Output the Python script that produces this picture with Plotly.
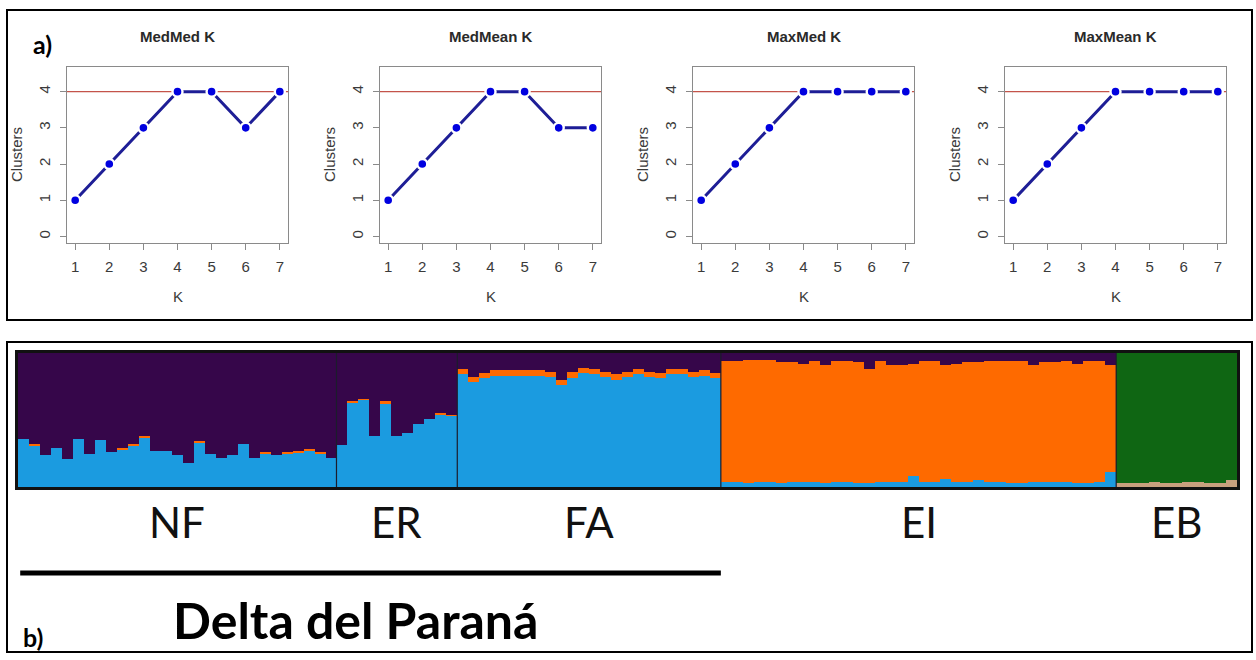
import plotly.graph_objects as go

# ---------------- data: panel a ----------------
K = [1, 2, 3, 4, 5, 6, 7]
medmed = [1, 2, 3, 4, 4, 3, 4]
medmean = [1, 2, 3, 4, 4, 3, 3]
maxmed = [1, 2, 3, 4, 4, 4, 4]
maxmean = [1, 2, 3, 4, 4, 4, 4]
panel_titles = ["MedMed K", "MedMean K", "MaxMed K", "MaxMean K"]
ref_clusters = 4
y_ticks = [0, 1, 2, 3, 4]

# ---------------- data: panel b (ancestry proportions per individual) ----------------
pops = ["NF", "ER", "FA", "EI", "EB"]

nf_blue = [0.36, 0.31, 0.24, 0.29, 0.21, 0.36, 0.25, 0.35, 0.26, 0.28, 0.31, 0.37, 0.27, 0.27, 0.24,
           0.18, 0.33, 0.25, 0.22, 0.24, 0.32, 0.22, 0.25, 0.24, 0.25, 0.26, 0.27, 0.25, 0.22]
nf_orange = [0.00, 0.01, 0.00, 0.00, 0.00, 0.00, 0.00, 0.00, 0.00, 0.01, 0.01, 0.01, 0.00, 0.00, 0.00,
             0.00, 0.01, 0.00, 0.00, 0.00, 0.00, 0.00, 0.01, 0.00, 0.01, 0.01, 0.01, 0.01, 0.00]
nf_green = [0.0] * 29
nf_purple = [0.64, 0.68, 0.76, 0.71, 0.79, 0.64, 0.75, 0.65, 0.74, 0.71, 0.68, 0.62, 0.73, 0.73, 0.76,
             0.82, 0.66, 0.75, 0.78, 0.76, 0.68, 0.78, 0.74, 0.76, 0.74, 0.73, 0.72, 0.74, 0.78]

er_blue = [0.31, 0.63, 0.65, 0.38, 0.62, 0.38, 0.40, 0.47, 0.51, 0.54, 0.53]
er_orange = [0.00, 0.01, 0.01, 0.00, 0.02, 0.00, 0.00, 0.00, 0.00, 0.01, 0.01]
er_green = [0.0] * 11
er_purple = [0.69, 0.36, 0.34, 0.62, 0.36, 0.62, 0.60, 0.53, 0.49, 0.45, 0.46]

fa_blue = [0.84, 0.78, 0.81, 0.83, 0.83, 0.83, 0.83, 0.83, 0.82, 0.76, 0.81, 0.85,
           0.84, 0.82, 0.80, 0.82, 0.84, 0.82, 0.81, 0.84, 0.84, 0.82, 0.83, 0.81]
fa_orange = [0.04, 0.04, 0.04, 0.04, 0.04, 0.04, 0.04, 0.04, 0.04, 0.04, 0.05, 0.04,
             0.04, 0.04, 0.04, 0.04, 0.04, 0.04, 0.04, 0.04, 0.04, 0.04, 0.04, 0.04]
fa_green = [0.0] * 24
fa_purple = [0.12, 0.18, 0.15, 0.13, 0.13, 0.13, 0.13, 0.13, 0.14, 0.20, 0.14, 0.11,
             0.12, 0.14, 0.16, 0.14, 0.12, 0.14, 0.15, 0.12, 0.12, 0.14, 0.13, 0.15]

ei_blue = [0.04, 0.04, 0.03, 0.04, 0.04, 0.03, 0.04, 0.04, 0.04, 0.03, 0.04, 0.04,
           0.03, 0.03, 0.04, 0.04, 0.04, 0.08, 0.04, 0.04, 0.06, 0.04, 0.04, 0.05,
           0.04, 0.04, 0.03, 0.03, 0.04, 0.04, 0.04, 0.04, 0.03, 0.03, 0.04, 0.11]
ei_orange = [0.90, 0.90, 0.92, 0.91, 0.91, 0.90, 0.89, 0.88, 0.90, 0.88, 0.90, 0.90,
             0.90, 0.85, 0.90, 0.87, 0.87, 0.84, 0.90, 0.90, 0.85, 0.88, 0.89, 0.88,
             0.90, 0.90, 0.91, 0.91, 0.87, 0.89, 0.89, 0.90, 0.89, 0.91, 0.90, 0.80]
ei_green = [0.0] * 36
ei_purple = [0.06, 0.06, 0.05, 0.05, 0.05, 0.07, 0.07, 0.08, 0.06, 0.09, 0.06, 0.06,
             0.07, 0.12, 0.06, 0.09, 0.09, 0.08, 0.06, 0.06, 0.09, 0.08, 0.07, 0.07,
             0.06, 0.06, 0.06, 0.06, 0.09, 0.07, 0.07, 0.06, 0.08, 0.06, 0.06, 0.09]

eb_blue = [0.01, 0.01, 0.01, 0.01, 0.01, 0.01, 0.01, 0.01, 0.01, 0.01, 0.01]
eb_orange = [0.02, 0.02, 0.02, 0.03, 0.02, 0.02, 0.03, 0.03, 0.02, 0.02, 0.04]
eb_green = [0.97, 0.97, 0.97, 0.96, 0.97, 0.97, 0.96, 0.96, 0.97, 0.97, 0.95]
eb_purple = [0.0] * 11

# ---------------- styling ----------------
W, H = 1256, 660
R_FONT = "Liberation Sans, Arial, sans-serif"
C_FONT = "Lato, Open Sans, sans-serif"
LINE_BLUE = "#1e1e96"
POINT_BLUE = "#0000e0"
REF_RED = "#c4544a"
COL_BLUE = "#1b9be0"
COL_ORANGE = "#fe6a00"
COL_GREEN = "#0f6613"
COL_PURPLE = "#36064a"
COL_TAN = "#c8a07e"


def fx(px):
    return px / W


def fy(py):
    return 1 - py / H


fig = go.Figure()
layout = dict(
    width=W, height=H, autosize=False,
    margin=dict(l=0, r=0, t=0, b=0, pad=0),
    paper_bgcolor="white", plot_bgcolor="white",
    showlegend=False, barmode="stack", bargap=0,
)
annotations = []
shapes = []

# ---------------- panel a: four R-style line plots ----------------
series = [medmed, medmean, maxmed, maxmean]
box_lefts = [67, 380, 693, 1005]
box_w = 221
box_top, box_bot = 67, 243

for i, (title, vals) in enumerate(zip(panel_titles, series)):
    n = i + 1
    xa = "x" if n == 1 else f"x{n}"
    ya = "y" if n == 1 else f"y{n}"
    xkey = "xaxis" if n == 1 else f"xaxis{n}"
    ykey = "yaxis" if n == 1 else f"yaxis{n}"
    left = box_lefts[i]
    right = left + box_w

    fig.add_trace(go.Scatter(x=K, y=vals, mode="lines", xaxis=xa, yaxis=ya,
                             line=dict(color=LINE_BLUE, width=3), hoverinfo="skip"))
    fig.add_trace(go.Scatter(x=K, y=vals, mode="markers", xaxis=xa, yaxis=ya,
                             marker=dict(color=POINT_BLUE, size=10,
                                         line=dict(color="white", width=2.4)),
                             hoverinfo="skip", cliponaxis=False))

    common = dict(showgrid=False, zeroline=False, showline=True, mirror=True,
                  linecolor="#8a8a8a", linewidth=1, ticks="outside", ticklen=6,
                  tickcolor="#8a8a8a", tickwidth=1,
                  tickfont=dict(family=R_FONT, size=15, color="#3a3a3a"),
                  fixedrange=True)
    layout[xkey] = dict(common, domain=[fx(left), fx(right)], anchor=ya,
                        range=[0.76, 7.24], tickmode="array", tickvals=K,
                        ticklabelstandoff=4)
    layout[ykey] = dict(common, domain=[fy(box_bot), fy(box_top)], anchor=xa,
                        range=[-0.18, 4.68], tickmode="array", tickvals=y_ticks,
                        tickangle=-90, ticklabelstandoff=4)

    shapes.append(dict(type="line", xref=f"{xa} domain", yref=ya, x0=0, x1=1,
                       y0=ref_clusters, y1=ref_clusters, layer="below",
                       line=dict(color=REF_RED, width=1.2)))

    cx = (left + right) / 2
    annotations.append(dict(text=f"<b>{title}</b>", xref="paper", yref="paper",
                            x=fx(cx), y=fy(37), showarrow=False,
                            xanchor="center", yanchor="middle",
                            font=dict(family=R_FONT, size=15, color="#2a2a2a")))
    annotations.append(dict(text="K", xref="paper", yref="paper",
                            x=fx(cx), y=fy(296), showarrow=False,
                            xanchor="center", yanchor="middle",
                            font=dict(family=R_FONT, size=15, color="#3a3a3a")))
    annotations.append(dict(text="Clusters", xref="paper", yref="paper",
                            x=fx(left - 51), y=fy((box_top + box_bot) / 2),
                            showarrow=False, textangle=-90,
                            xanchor="center", yanchor="middle",
                            font=dict(family=R_FONT, size=15, color="#3a3a3a")))

# ---------------- panel b: STRUCTURE-like stacked bars ----------------
groups_blue = [nf_blue, er_blue, fa_blue, ei_blue, eb_blue]
groups_orange = [nf_orange, er_orange, fa_orange, ei_orange, eb_orange]
groups_green = [nf_green, er_green, fa_green, ei_green, eb_green]
groups_purple = [nf_purple, er_purple, fa_purple, ei_purple, eb_purple]

q_blue = sum(groups_blue, [])
q_orange = sum(groups_orange, [])
q_green = sum(groups_green, [])
q_purple = sum(groups_purple, [])
n_ind = len(q_blue)
idx = list(range(1, n_ind + 1))

# orange slivers inside the green (EB) group appear tan in the source image
eb_start = n_ind - len(eb_blue)
orange_colors = [COL_TAN if k >= eb_start else COL_ORANGE for k in range(n_ind)]
blue_colors = [COL_TAN if k >= eb_start else COL_BLUE for k in range(n_ind)]

for vals, col in [(q_blue, blue_colors), (q_orange, orange_colors),
                  (q_green, COL_GREEN), (q_purple, COL_PURPLE)]:
    fig.add_trace(go.Bar(x=idx, y=vals, xaxis="x5", yaxis="y5",
                         marker=dict(color=col, line=dict(width=0)),
                         hoverinfo="skip"))

bar_left, bar_right, bar_top, bar_bot = 18, 1237, 353, 487
layout["xaxis5"] = dict(domain=[fx(bar_left), fx(bar_right)], anchor="y5",
                        range=[0.5, n_ind + 0.5], showgrid=False, zeroline=False,
                        showticklabels=False, ticks="", showline=True, mirror=True,
                        linecolor="#111111", linewidth=3, fixedrange=True)
layout["yaxis5"] = dict(domain=[fy(bar_bot), fy(bar_top)], anchor="x5",
                        range=[0, 1], showgrid=False, zeroline=False,
                        showticklabels=False, ticks="", showline=True, mirror=True,
                        linecolor="#111111", linewidth=3, fixedrange=True)

sizes = [len(g) for g in groups_blue]
bounds = []
acc = 0
for s in sizes:
    bounds.append((acc + 0.5, acc + s + 0.5))
    acc += s

for (a, b) in bounds[:-1]:
    shapes.append(dict(type="line", xref="x5", yref="y5 domain", x0=b, x1=b,
                       y0=0, y1=1, layer="above",
                       line=dict(color="#1c1c2c", width=1.2)))

for pop, (a, b) in zip(pops, bounds):
    annotations.append(dict(text=pop, xref="x5", yref="paper", x=(a + b) / 2,
                            y=fy(522), showarrow=False, xanchor="center",
                            yanchor="middle",
                            font=dict(family=C_FONT, size=42, color="#111111")))

# underline below NF, ER, FA (Delta del Paraná)
shapes.append(dict(type="line", xref="x5", yref="paper", x0=bounds[0][0] + 0.2,
                   x1=bounds[2][1], y0=fy(573), y1=fy(573),
                   line=dict(color="#000000", width=5)))
annotations.append(dict(text="<b>Delta del Paraná</b>", xref="paper", yref="paper",
                        x=fx(355), y=fy(620), showarrow=False, xanchor="center",
                        yanchor="middle",
                        font=dict(family=C_FONT, size=50, color="#000000")))

# panel labels
annotations.append(dict(text="<b>a)</b>", xref="paper", yref="paper", x=fx(42), y=fy(44),
                        showarrow=False, xanchor="center", yanchor="middle",
                        font=dict(family=C_FONT, size=25, color="#000000")))
annotations.append(dict(text="<b>b)</b>", xref="paper", yref="paper", x=fx(33), y=fy(637),
                        showarrow=False, xanchor="center", yanchor="middle",
                        font=dict(family=C_FONT, size=25, color="#000000")))

# panel frames
shapes.append(dict(type="rect", xref="paper", yref="paper", x0=fx(7), x1=fx(1252),
                   y0=fy(320), y1=fy(10), line=dict(color="#000000", width=2)))
shapes.append(dict(type="rect", xref="paper", yref="paper", x0=fx(7), x1=fx(1252),
                   y0=fy(652), y1=fy(342), line=dict(color="#000000", width=2)))

layout["annotations"] = annotations
layout["shapes"] = shapes
fig.update_layout(**layout)

fig.write_html("out.html")
